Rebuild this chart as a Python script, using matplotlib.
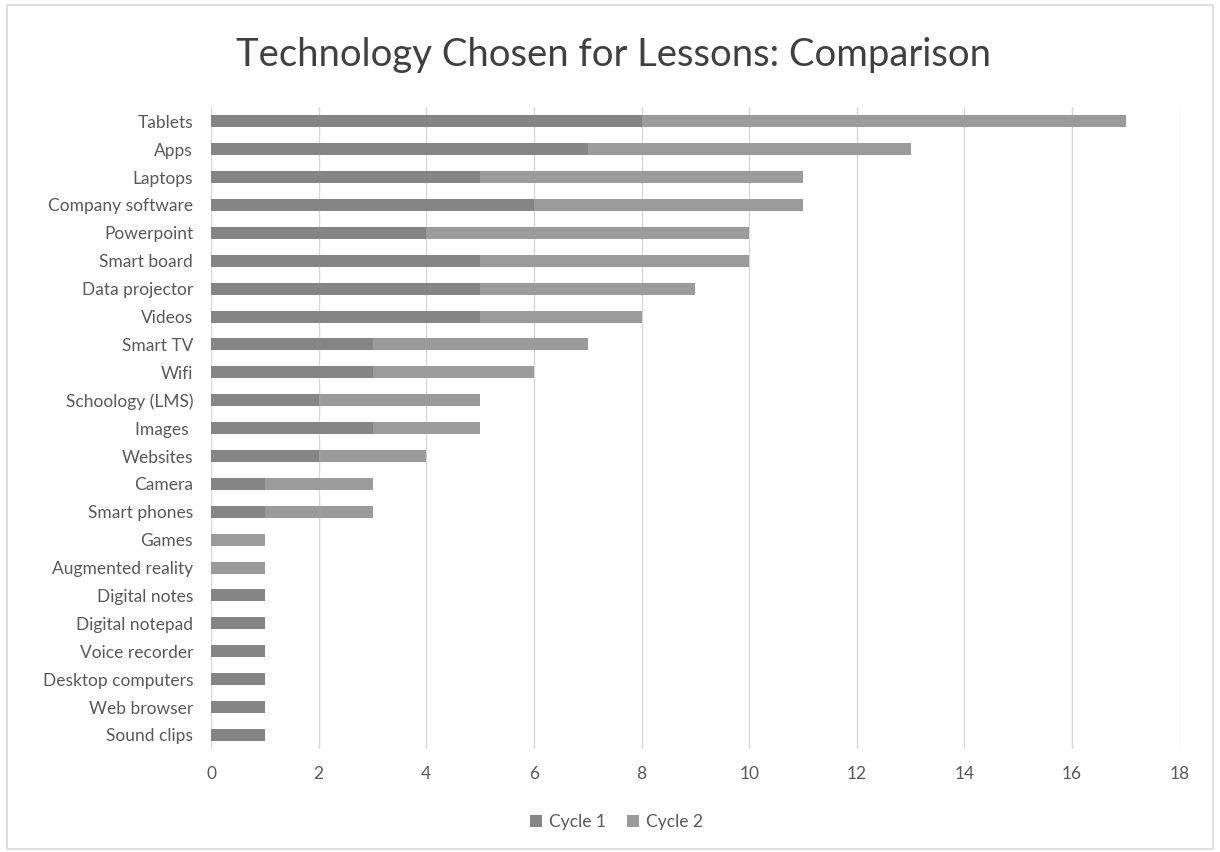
import matplotlib.pyplot as plt
from matplotlib.patches import Rectangle
import numpy as np

plt.rcParams['font.family'] = ['Lato', 'DejaVu Sans']

# data, top to bottom as shown
categories = ['Tablets', 'Apps', 'Laptops', 'Company software', 'Powerpoint',
              'Smart board', 'Data projector', 'Videos', 'Smart TV', 'Wifi',
              'Schoology (LMS)', 'Images ', 'Websites', 'Camera', 'Smart phones',
              'Games', 'Augmented reality', 'Digital notes', 'Digital notepad',
              'Voice recorder', 'Desktop computers', 'Web browser', 'Sound clips']
cycle1 = [8, 7, 5, 6, 4, 5, 5, 5, 3, 3, 2, 3, 2, 1, 1, 0, 0, 1, 1, 1, 1, 1, 1]
cycle2 = [9, 6, 6, 5, 6, 5, 4, 3, 4, 3, 3, 2, 2, 2, 2, 1, 1, 0, 0, 0, 0, 0, 0]
xticks = list(range(0, 19, 2))

c1_color = '#858585'
c2_color = '#9b9b9b'
text_color = '#595959'

fig = plt.figure(figsize=(12.2, 8.52), dpi=100)
fig.patches.append(Rectangle((0.006, 0.004), 0.988, 0.99, transform=fig.transFigure,
                             fill=False, edgecolor='#d9d9d9', linewidth=1.2))
ax = fig.add_axes([0.173, 0.121, 0.794, 0.753])

y = np.arange(len(categories))
c1 = np.array(cycle1)
c2 = np.array(cycle2)
ax.barh(y, c1, height=0.43, color=c1_color, label='Cycle 1', zorder=3)
ax.barh(y, c2, left=c1, height=0.43, color=c2_color, label='Cycle 2', zorder=3)

ax.set_yticks(y)
ax.set_yticklabels(categories, fontsize=12.5, color=text_color)
ax.set_ylim(len(categories) - 0.5, -0.5)
ax.set_xlim(0, 18)
ax.set_xticks(xticks)
ax.set_xticklabels([str(t) for t in xticks], fontsize=12.5, color=text_color)
ax.tick_params(length=0)
ax.tick_params(axis='x', pad=12)
ax.tick_params(axis='y', pad=13)
ax.grid(axis='x', color='#d9d9d9', linewidth=1, zorder=0)
for s in ax.spines.values():
    s.set_visible(False)

fig.suptitle('Technology Chosen for Lessons: Comparison', fontsize=27.5,
             color='#404040', x=0.503, y=0.935, va='center')

fig.legend(loc='center', bbox_to_anchor=(0.505, 0.035), ncol=2, frameon=False,
           fontsize=12.5, labelcolor=text_color, handlelength=0.7, handleheight=0.7,
           handletextpad=0.4, columnspacing=1.2)

fig.savefig('out.png', dpi=100, facecolor='white')
